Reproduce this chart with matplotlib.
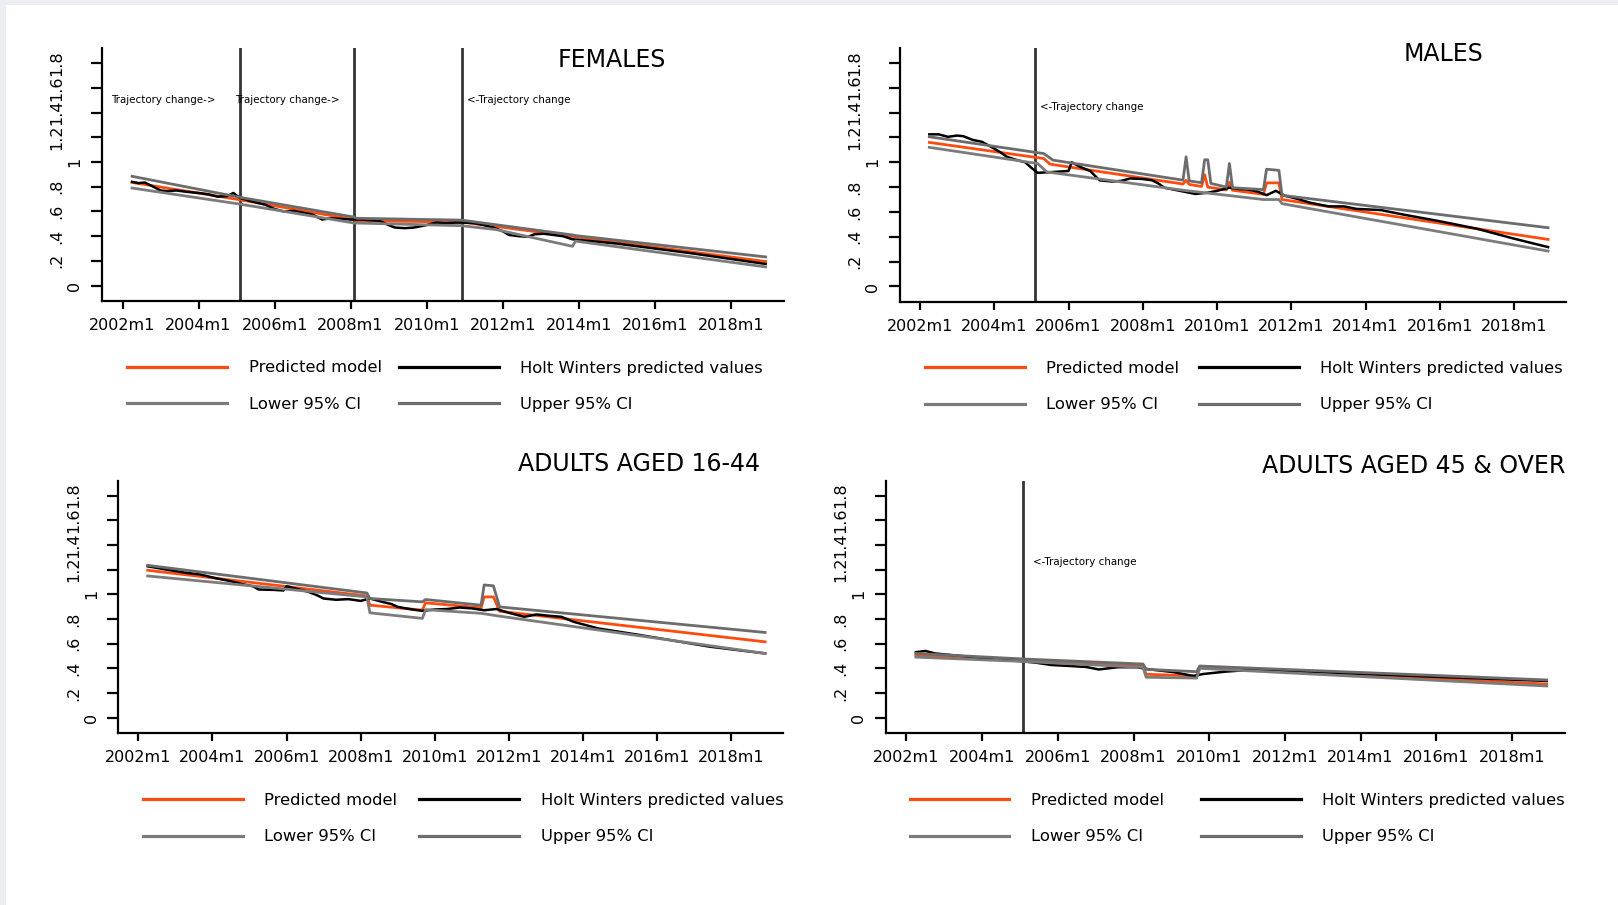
import numpy as np
import matplotlib
matplotlib.use("Agg")
import matplotlib.pyplot as plt
from matplotlib import font_manager
from matplotlib.lines import Line2D
from matplotlib.patches import Rectangle
from matplotlib.transforms import offset_copy

# monthly series, Stata style dates "YYYYmM"
fem_pred = [("2002m4", .835), ("2005m2", .695), ("2008m2", .535), ("2008m3", .525),
            ("2010m12", .515), ("2018m12", .195)]
fem_lower = [("2002m4", .79), ("2005m2", .66), ("2008m2", .507), ("2010m12", .485),
             ("2011m11", .453), ("2013m11", .318), ("2013m12", .36), ("2018m12", .151)]
fem_upper = [("2002m4", .885), ("2005m2", .715), ("2008m2", .555), ("2008m3", .545),
             ("2010m12", .53), ("2013m11", .41), ("2013m12", .405), ("2018m12", .232)]
fem_hw = [("2002m4", .84), ("2002m6", .83), ("2002m8", .835), ("2002m10", .81), ("2003m1", .77),
          ("2003m3", .765), ("2003m6", .77), ("2003m9", .76), ("2004m1", .75), ("2004m4", .74),
          ("2004m7", .72), ("2004m10", .725), ("2004m12", .75), ("2005m2", .71), ("2005m6", .68),
          ("2005m10", .655), ("2006m1", .62), ("2006m4", .60), ("2006m7", .605), ("2006m10", .59),
          ("2007m1", .575), ("2007m4", .535), ("2007m7", .545), ("2007m10", .54), ("2008m1", .535),
          ("2008m4", .535), ("2008m7", .53), ("2008m10", .525), ("2009m1", .49), ("2009m3", .47),
          ("2009m6", .465), ("2009m9", .47), ("2010m1", .49), ("2010m4", .51), ("2010m7", .505),
          ("2010m10", .51), ("2011m1", .51), ("2011m4", .505), ("2011m7", .49), ("2011m10", .47),
          ("2012m1", .44), ("2012m3", .41), ("2012m6", .40), ("2012m9", .395), ("2012m11", .415),
          ("2013m2", .42), ("2013m5", .41), ("2013m8", .40), ("2013m11", .375), ("2014m3", .365),
          ("2015m1", .34), ("2016m1", .30), ("2017m1", .26), ("2018m12", .175)]

male_pred = [("2002m4", 1.16), ("2005m5", 1.03), ("2005m7", .985), ("2009m2", .825), ("2009m3", .855),
             ("2009m4", .822), ("2009m8", .805), ("2009m9", .90), ("2009m10", .80), ("2010m4", .778),
             ("2010m5", .84), ("2010m6", .775), ("2011m4", .742), ("2011m5", .834), ("2011m9", .834),
             ("2011m10", .70), ("2018m12", .379)]
male_lower = [("2002m4", 1.12), ("2005m3", .99), ("2005m6", .922), ("2009m2", .775),
              ("2011m4", .70), ("2011m9", .70), ("2011m10", .667), ("2018m12", .285)]
male_upper = [("2002m4", 1.205), ("2005m5", 1.07), ("2005m8", 1.017), ("2009m2", .856), ("2009m3", 1.044),
              ("2009m4", .85), ("2009m8", .835), ("2009m9", 1.02), ("2009m10", 1.02), ("2009m11", .83),
              ("2010m4", .80), ("2010m5", .99), ("2010m6", .795), ("2011m4", .78), ("2011m5", .944),
              ("2011m9", .935), ("2011m10", .734), ("2018m12", .473)]
male_hw = [("2002m4", 1.225), ("2002m7", 1.225), ("2002m10", 1.205), ("2003m1", 1.215), ("2003m3", 1.21),
           ("2003m6", 1.18), ("2003m9", 1.165), ("2004m1", 1.11), ("2004m3", 1.08), ("2004m5", 1.045),
           ("2004m8", 1.02), ("2004m11", 1.0), ("2005m1", .955), ("2005m3", .915), ("2005m7", .92),
           ("2005m10", .925), ("2006m1", .93), ("2006m2", 1.0), ("2006m5", .96), ("2006m8", .93),
           ("2006m11", .855), ("2007m3", .845), ("2007m6", .85), ("2007m9", .87), ("2008m1", .865),
           ("2008m4", .855), ("2008m6", .83), ("2008m8", .795), ("2008m11", .78), ("2009m3", .76),
           ("2009m6", .745), ("2009m10", .755), ("2010m1", .77), ("2010m5", .795), ("2010m8", .785),
           ("2010m11", .78), ("2011m2", .765), ("2011m5", .735), ("2011m8", .77), ("2011m11", .73),
           ("2012m3", .705), ("2012m7", .675), ("2012m10", .66), ("2013m1", .645), ("2013m6", .645),
           ("2013m10", .625), ("2014m6", .615), ("2015m1", .58), ("2016m1", .525), ("2017m1", .465),
           ("2018m1", .385), ("2018m12", .317)]

young_pred = [("2002m4", 1.194), ("2008m3", .986), ("2008m4", .911), ("2009m9", .871), ("2009m10", .93),
              ("2011m4", .89), ("2011m5", .978), ("2011m8", .978), ("2011m10", .862), ("2018m12", .614)]
young_lower = [("2002m4", 1.148), ("2008m3", .978), ("2008m4", .849), ("2009m9", .804), ("2009m10", .875),
               ("2011m4", .845), ("2011m10", .822), ("2018m12", .52)]
young_upper = [("2002m4", 1.234), ("2008m3", 1.01), ("2008m4", .965), ("2009m9", .938), ("2009m10", .957),
               ("2011m4", .911), ("2011m5", 1.075), ("2011m8", 1.068), ("2011m10", .897), ("2018m12", .69)]
young_hw = [("2002m4", 1.226), ("2002m10", 1.20), ("2003m4", 1.175), ("2003m9", 1.16), ("2004m2", 1.13),
            ("2004m6", 1.11), ("2004m11", 1.08), ("2005m2", 1.065), ("2005m4", 1.038), ("2005m9", 1.035),
            ("2005m12", 1.03), ("2006m1", 1.065), ("2006m4", 1.045), ("2006m8", 1.02), ("2006m11", .99),
            ("2007m1", .965), ("2007m5", .955), ("2007m9", .96), ("2008m1", .946), ("2008m4", .965),
            ("2008m8", .938), ("2008m11", .92), ("2009m1", .897), ("2009m6", .875), ("2009m9", .865),
            ("2010m1", .876), ("2010m5", .88), ("2010m9", .892), ("2011m1", .885), ("2011m5", .87),
            ("2011m9", .88), ("2012m1", .849), ("2012m6", .817), ("2012m10", .836), ("2013m2", .825),
            ("2013m6", .817), ("2013m10", .776), ("2014m6", .722), ("2015m6", .675), ("2016m6", .625),
            ("2017m6", .575), ("2018m12", .52)]

old_pred = [("2002m4", .505), ("2005m2", .465), ("2008m4", .42), ("2008m5", .351), ("2009m9", .337),
            ("2009m10", .407), ("2018m12", .272)]
old_lower = [("2002m4", .49), ("2005m2", .455), ("2008m4", .407), ("2008m5", .327), ("2009m9", .32),
             ("2009m10", .399), ("2018m12", .256)]
old_upper = [("2002m4", .52), ("2005m2", .475), ("2008m4", .434), ("2008m5", .391), ("2009m9", .372),
             ("2009m10", .418), ("2018m12", .305)]
old_hw = [("2002m4", .53), ("2002m7", .54), ("2002m10", .52), ("2003m6", .50), ("2004m2", .48),
          ("2005m1", .458), ("2005m6", .445), ("2005m11", .426), ("2006m5", .418), ("2006m10", .41),
          ("2007m2", .39), ("2007m8", .408), ("2008m2", .408), ("2008m6", .391), ("2009m2", .367),
          ("2009m8", .337), ("2009m11", .353), ("2010m6", .372), ("2011m1", .385), ("2012m1", .38),
          ("2014m1", .355), ("2016m1", .33), ("2018m12", .297)]

# trajectory change dates for the vertical lines
fem_breaks = ["2005m2", "2008m2", "2010m12"]
male_breaks = ["2005m2"]
young_breaks = []
old_breaks = ["2005m2"]

titles = ["FEMALES", "MALES", "ADULTS AGED 16-44", "ADULTS AGED 45 & OVER"]
legend_labels = ["Predicted model", "Lower 95% CI", "Holt Winters predicted values", "Upper 95% CI"]
yticks = [0, .2, .4, .6, .8, 1, 1.2, 1.4, 1.6, 1.8]
ytick_labels = ["0", ".2", ".4", ".6", ".8", "1", "1.2", "1.4", "1.6", "1.8"]
xtick_years = list(range(2002, 2019, 2))

ORANGE = "#ff4b0f"
GREY_LO = "#7c7c7c"
GREY_HI = "#6c6c6c"


def ym(s):
    y, m = s.split("m")
    return int(y) + (int(m) - 1) / 12


def series(pairs):
    return np.array([ym(t) for t, _ in pairs]), np.array([v for _, v in pairs])


def pick_font(*names):
    for n in names:
        try:
            font_manager.findfont(font_manager.FontProperties(family=n), fallback_to_default=False)
            return n
        except ValueError:
            pass
    return "DejaVu Sans"


plt.rcParams["font.family"] = "DejaVu Sans"
narrow = pick_font("Liberation Sans Narrow", "DejaVu Sans Condensed")
narrow_size = 13 if narrow == "Liberation Sans Narrow" else 11.5

W, H = 1618, 905
fig = plt.figure(figsize=(W / 100, H / 100), dpi=100)
fig.patch.set_facecolor("#eceef2")
fig.add_artist(Rectangle((6 / W, 0), 1, 1 - 5 / H, transform=fig.transFigure,
                         facecolor="white", edgecolor="none", zorder=-5))


def px(x0, y_top, x1, y_bot):
    return [x0 / W, 1 - y_bot / H, (x1 - x0) / W, (y_bot - y_top) / H]


panels = [
    dict(rect=px(102, 48.5, 784, 301), data=(fem_pred, fem_hw, fem_lower, fem_upper),
         breaks=fem_breaks, tpos=(612, 60), leg=(127.5, 370, 1.04),
         notes=[(2001.70, 1.50, "Trajectory change->"), (2004.96, 1.50, "Trajectory change->"),
                (2011.07, 1.50, "<-Trajectory change")]),
    dict(rect=px(900, 48, 1566, 302), data=(male_pred, male_hw, male_lower, male_upper),
         breaks=male_breaks, tpos=(1444, 54), leg=(925, 370.5, 1.19),
         notes=[(2005.24, 1.445, "<-Trajectory change")]),
    dict(rect=px(118.4, 480.7, 783, 733), data=(young_pred, young_hw, young_lower, young_upper),
         breaks=young_breaks, tpos=(639, 464), leg=(143, 802.5, 1.34), notes=[]),
    dict(rect=px(886, 480.7, 1565, 733), data=(old_pred, old_hw, old_lower, old_upper),
         breaks=old_breaks, tpos=(1413.5, 466), leg=(909.5, 802.5, 2.26),
         notes=[(2005.35, 1.26, "<-Trajectory change")]),
]

for p, title in zip(panels, titles):
    ax = fig.add_axes(p["rect"])
    pred, hw, lower, upper = p["data"]

    ax.plot(*series(pred), color=ORANGE, lw=2.0, zorder=3)
    ax.plot(*series(hw), color="black", lw=1.8, zorder=4)
    ax.plot(*series(lower), color=GREY_LO, lw=2.0, zorder=5)
    ax.plot(*series(upper), color=GREY_HI, lw=2.0, zorder=5)

    for b in p["breaks"]:
        ax.axvline(ym(b), color="#363636", lw=2.0, zorder=2)
    for x, y, s in p["notes"]:
        ax.text(x, y, s, fontsize=7.4, va="center", ha="left")

    ax.set_xlim(2001.46, 2019.40)
    ax.set_ylim(-0.125, 1.92)
    for side in ("top", "right"):
        ax.spines[side].set_visible(False)
    for side in ("left", "bottom"):
        ax.spines[side].set_linewidth(1.6)

    ax.set_xticks(xtick_years)
    ax.set_xticklabels([f"{y}m1" for y in xtick_years])
    ax.tick_params(axis="x", length=6, width=1.6, pad=6, labelsize=11.5)
    ax.set_yticks(yticks)
    ax.tick_params(axis="y", length=8, width=1.6, labelleft=False)

    # rotated y labels; whole numbers sit closer to the axis
    for v, lab in zip(yticks, ytick_labels):
        off = -19.5 if "." not in lab else -32.5
        tr = offset_copy(ax.get_yaxis_transform(), fig=fig, x=off, y=0, units="points")
        ax.text(0, v, lab, transform=tr, rotation=90, ha="center", va="center",
                family=narrow, fontsize=narrow_size)

    tx, ty = p["tpos"]
    fig.text(tx / W, 1 - ty / H, title, ha="center", va="center", fontsize=17)

    lx, ly, cs = p["leg"]
    handles = [Line2D([], [], color=ORANGE, lw=2.3),
               Line2D([], [], color=GREY_LO, lw=2.3),
               Line2D([], [], color="black", lw=2.3),
               Line2D([], [], color=GREY_HI, lw=2.3)]
    ax.legend(handles, legend_labels, loc="upper left",
              bbox_to_anchor=(lx / W, 1 - (ly - 9.5) / H), bbox_transform=fig.transFigure,
              ncol=2, frameon=False, borderpad=0, borderaxespad=0, handlelength=6.1,
              handletextpad=1.3, columnspacing=cs, labelspacing=1.3, fontsize=11.8)

fig.savefig("out.png", dpi=100, facecolor=fig.get_facecolor())
